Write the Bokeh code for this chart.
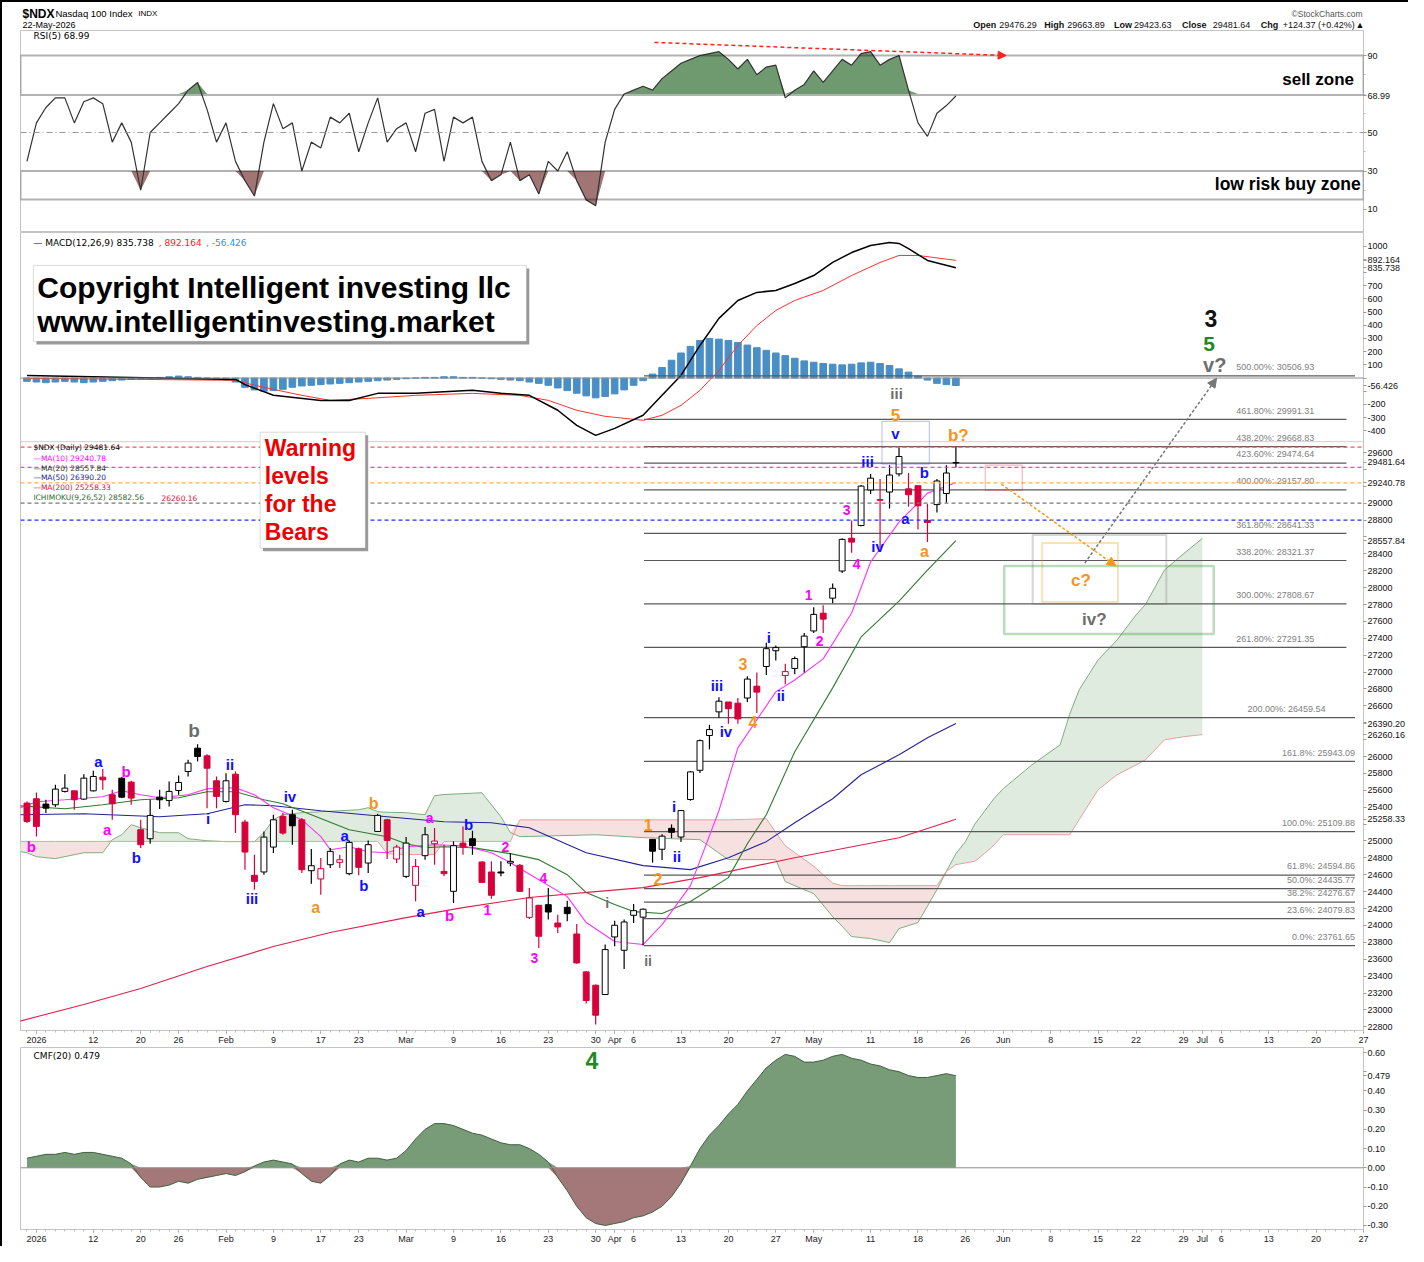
import numpy as np
from bokeh.plotting import figure
from bokeh.layouts import column
from bokeh.models import (Range1d, FixedTicker, Label, Span, Arrow, NormalHead,
                          ColumnDataSource, BoxAnnotation)
from bokeh.embed import file_html
from bokeh.resources import INLINE
from bokeh.core.properties import value

FONT = "Liberation Sans"
VFONT = "DejaVu Sans"

# ---------------- data (trading-day index: 0 = 2 Jan 2026) ----------------
days = list(range(-1, 98))
opens = [25449, 25500, 25437, 25429, 25587, 25594, 25496, 25594, 25756, 25547,
         25744, 25697, 25133, 25027, 25519, 25480, 25598, 25823, 26099, 26008,
         25713, 25468, 25791, 25224, 24593, 24633, 24928, 25291, 25311, 25251,
         24648, 24550, 24719, 24747, 24613, 24908, 24739, 25113, 25251, 24786,
         24581, 24475, 24826, 24968, 24640, 24404, 24975, 25027, 24751, 24633,
         24633, 24739, 24712, 24096, 24238, 24246, 24029, 24215, 23899, 23450,
         23292, 23182, 23864, 23706, 24120, 24098, 25019, 24902, 25150, 25047,
         25491, 25837, 26249, 26529, 26646, 26632, 26693, 26833, 27066, 27253,
         26959, 27043, 27300, 27487, 27697, 27875, 28197, 28585, 28735, 29156,
         29034, 29132, 29347, 29170, 29207, 28796, 28983, 29114, 29476.29]
highs = [25468, 25575, 25488, 25665, 25791, 25594, 25791, 25831, 25851, 25606,
         25756, 25713, 25251, 25488, 25606, 25705, 25776, 25961, 26146, 26028,
         25764, 25803, 25823, 25251, 24837, 25113, 25311, 25330, 25370, 25271,
         24905, 24798, 24916, 24837, 25007, 24924, 25007, 25322, 25263, 24956,
         25046, 24786, 25165, 25153, 24956, 24995, 25173, 25121, 24759, 24759,
         24759, 24857, 24727, 24443, 24246, 24443, 24128, 24293, 24018, 23458,
         23300, 23773, 24057, 24069, 24254, 24200, 25019, 25080, 25197, 25360,
         25828, 26202, 26375, 26702, 26646, 26693, 26950, 26996, 27347, 27314,
         27099, 27183, 27464, 27768, 27791, 28048, 28585, 28796, 29216, 29347,
         29287, 29450, 29660, 29357, 29207, 28992, 29287, 29450, 29663.89]
lows = [25212, 25054, 25330, 25401, 25575, 25370, 25488, 25587, 25606, 25251,
        25508, 25429, 24916, 24968, 25378, 25409, 25547, 25764, 25941, 25389,
        25389, 25456, 25094, 24660, 24424, 24601, 24857, 25074, 24956, 24621,
        24495, 24364, 24680, 24680, 24593, 24593, 24621, 25106, 24786, 24739,
        24562, 24286, 24778, 24719, 24581, 24266, 24837, 24837, 24503, 24317,
        24581, 24700, 24396, 24077, 23734, 24069, 23911, 24049, 23545, 23075,
        22827, 23182, 23753, 23485, 24029, 23762, 24744, 24776, 25033, 24987,
        25477, 25804, 26085, 26459, 26389, 26389, 26646, 26515, 26964, 27136,
        26856, 26973, 26996, 27464, 27464, 27814, 28174, 28412, 28726, 29109,
        28469, 28936, 29319, 28959, 28688, 28539, 28889, 29006, 29423.63]
closes = [25232, 25173, 25389, 25614, 25626, 25488, 25744, 25764, 25724, 25441,
          25519, 25508, 24956, 25303, 25488, 25587, 25693, 25922, 26000, 25862,
          25527, 25713, 25311, 24869, 24522, 25046, 25251, 25094, 25180, 24660,
          24707, 24672, 24877, 24778, 24983, 24688, 24956, 25303, 25007, 24928,
          24975, 24699, 25074, 24999, 24613, 24944, 24930, 24945, 24510, 24357,
          24621, 24759, 24404, 24325, 23872, 24159, 23982, 24140, 23556, 23111,
          22937, 23714, 24002, 24041, 24175, 24192, 24879, 25057, 25103, 25360,
          25818, 26188, 26319, 26655, 26566, 26445, 26917, 26763, 27277, 27290,
          27006, 27160, 27426, 27683, 27627, 27992, 28571, 28539, 29202, 29296,
          29043, 29333, 29553, 29100, 28969, 28772, 29263, 29357.27, 29481.64]

ma10_days = [-2, 0, 3, 7, 9, 11, 13, 16, 18, 21, 23, 25, 28, 30, 31, 33, 35, 37, 39, 42,
             45, 48, 50, 53, 56, 58, 61, 64, 66, 69, 72, 74, 78, 80, 83, 86, 88, 91, 93, 94, 97]
ma10 = [25382, 25465, 25488, 25524, 25595, 25547, 25512, 25547, 25618, 25630, 25547, 25394,
        25252, 25051, 24897, 24932, 24873, 24861, 24932, 24956, 24944, 24861, 24743, 24542,
        24341, 24034, 23809, 23774, 24010, 24471, 25358, 26103, 26766, 26907, 27156, 27700,
        28303, 28776, 29001, 29119, 29240.78]
ma20_days = [-2, 3, 7, 11, 15, 18, 21, 24, 26, 29, 33, 37, 39, 41, 43, 46, 50, 53, 56, 58,
             61, 63, 66, 69, 73, 75, 77, 80, 84, 87, 91, 94, 97]
ma20 = [25418, 25382, 25429, 25488, 25512, 25583, 25583, 25488, 25441, 25311, 25133, 25051,
        24968, 24921, 24932, 24921, 24850, 24779, 24601, 24389, 24247, 24164, 24141, 24283,
        24566, 24968, 25311, 26056, 26813, 27416, 27841, 28208, 28557.84]
ma50_days = [-2, 5, 13, 18, 22, 25, 30, 37, 43, 48, 52, 58, 64, 69, 73, 77, 80, 84, 87, 91, 94, 97]
ma50 = [25311, 25323, 25287, 25323, 25429, 25418, 25358, 25287, 25228, 25216, 25157, 24861,
        24708, 24661, 24802, 24992, 25216, 25500, 25784, 26020, 26222, 26390.20]
ma200_days = [-2, 5, 11, 18, 25, 31, 39, 45, 52, 59, 64, 70, 80, 91, 97]
ma200 = [22860, 23064, 23253, 23513, 23750, 23916, 24093, 24211, 24330, 24400, 24448, 24566,
         24802, 25039, 25258.33]

cloud_days = [-2, -1, 0, 2, 5, 7, 8, 9, 10, 11, 13, 15, 16, 18, 20, 23, 24, 25, 26, 28,
              34, 35, 36, 37, 39, 41, 42, 43, 47, 49, 50, 51, 59, 64, 70, 73, 77, 78, 79, 82,
              84, 85, 86, 88, 90, 91, 93, 95, 96, 97, 98, 99, 100, 101, 102, 105, 108, 109, 110, 112,
              114, 116, 117, 119, 121, 123]
span_a = [24880, 24860, 24814, 24791, 24861, 24861, 25015, 25074, 25193, 25157, 25098, 25098,
          25027, 25003, 24992, 24992, 25100, 25252, 25311, 25335, 25370, 25394, 25347, 25340,
          25335, 25311, 25536, 25550, 25571, 25287, 25100, 25051, 25074, 25040, 25015, 24779,
          24779, 24779, 24518, 24377, 24105, 23990, 23868, 23845, 23797, 23963, 24034, 24424,
          24640, 24850, 24992, 25200, 25350, 25500, 25620, 25900, 26139, 26500, 26789, 27144,
          27380, 27676, 27800, 28208, 28400, 28582.56]
span_b = [24995, 24995, 24995, 24995, 24995, 24995, 24995, 24995, 24995, 24995, 24995, 24995,
          24995, 24995, 24995, 24995, 24995, 24995, 24995, 24995, 24995, 24995, 24995, 24850,
          24840, 24840, 24840, 24995, 24995, 24995, 24995, 25250, 25250, 25250, 25250, 25250,
          25264, 25100, 24944, 24700, 24500, 24471, 24471, 24471, 24471, 24471, 24471, 24471,
          24640, 24720, 24740, 24760, 24850, 24950, 25074, 25074, 25074, 25074, 25252, 25607,
          25784, 25900, 25962, 26198, 26234, 26260.16]

macd_days = [-1, 21, 22, 25, 30, 33, 36, 40, 46, 49, 52, 55, 57, 59, 61, 64, 66, 68, 70, 72,
             74, 76, 78, 80, 82, 84, 86, 88, 90, 91, 92, 94, 97]
macd_line = [20, -10, -50, -130, -170, -170, -116, -116, -93, -116, -131, -244, -358, -434,
             -381, -282, -131, 20, 247, 452, 588, 649, 664, 717, 777, 876, 951, 1004, 1027,
             1020, 981, 891, 835.738]
signal_days = [-1, 21, 23, 28, 31, 35, 40, 46, 51, 54, 57, 60, 64, 66, 68, 70, 72, 74, 76, 78,
               80, 83, 86, 89, 91, 93, 97]
signal_line = [-2, -17, -55, -131, -169, -154, -131, -116, -131, -169, -244, -290, -320, -282,
               -207, -93, 58, 247, 398, 512, 588, 664, 777, 876, 929, 929, 892.164]
macd_hist = [-25, -30, -35, -30, -25, -30, -35, -30, -25, -20,
             -15, -10, -5, 0, 5, 10, 15, 10, 5, 0,
             -5, -15, -30, -70, -90, -100, -95, -85, -70,
             -60, -55, -50, -45, -40, -35, -30, -25, -20, -15, -10,
             -5, 0, 5, 5, 10, 10, 5, 5, 0, -5, -10, -15, -20, -30, -40, -55,
             -75, -95, -115, -135, -150, -140, -120, -90, -55,
             -20, 30, 80, 135, 190, 240, 285,
             300, 295, 285, 270, 250, 230, 210, 190, 170, 150,
             130, 120, 110, 105, 100, 105, 115, 120, 110, 95,
             70, 45, 15, -15, -40, -50, -56.426]

rsi5 = [35, 55, 63, 68, 68, 55, 66, 68, 65, 45,
        55, 45, 20, 50, 55, 60, 65, 72, 76, 62,
        45, 55, 35, 25, 17, 45, 65, 52, 55, 30,
        45, 42, 58, 55, 60, 40, 55, 68, 45, 52,
        55, 40, 60, 62, 35, 58, 55, 58, 35, 25,
        28, 45, 25, 28, 18, 35, 30, 40, 25, 15,
        12, 45, 62, 70, 72, 74, 72, 78, 82, 86,
        88, 90, 91, 92, 88, 83, 88, 80, 84, 85,
        68, 72, 75, 82, 76, 82, 88, 85, 91, 92,
        85, 88, 90, 72, 55, 48, 60, 64, 68.99]

cmf20 = [0.05, 0.06, 0.07, 0.07, 0.08, 0.07, 0.08, 0.08, 0.07, 0.06,
         0.05, 0.02, -0.05, -0.10, -0.10, -0.09, -0.07, -0.08, -0.06, -0.05,
         -0.04, -0.03, -0.04, -0.02, 0.01, 0.03, 0.04, 0.03, 0.02, -0.03,
         -0.07, -0.08, -0.04, 0.02, 0.04, 0.03, 0.05, 0.05, 0.04, 0.05,
         0.09, 0.15, 0.20, 0.23, 0.23, 0.22, 0.20, 0.18, 0.17, 0.15,
         0.13, 0.12, 0.12, 0.10, 0.07, 0.03, -0.05, -0.12, -0.20, -0.26,
         -0.29, -0.30, -0.29, -0.28, -0.26, -0.25, -0.23, -0.20, -0.15, -0.08,
         0.01, 0.10, 0.17, 0.22, 0.28, 0.33, 0.40, 0.46, 0.52, 0.56,
         0.59, 0.58, 0.55, 0.55, 0.56, 0.58, 0.59, 0.57, 0.56, 0.54,
         0.53, 0.51, 0.50, 0.48, 0.47, 0.47, 0.48, 0.49, 0.479]

fib_pct = ["500.00%", "461.80%", "438.20%", "423.60%", "400.00%", "361.80%", "338.20%",
           "300.00%", "261.80%", "200.00%", "161.8%", "100.0%", "61.8%", "50.0%", "38.2%",
           "23.6%", "0.0%"]
fib_val = [30506.93, 29991.31, 29668.83, 29474.64, 29157.80, 28641.33, 28321.37, 27808.67,
           27291.35, 26459.54, 25943.09, 25109.88, 24594.86, 24435.77, 24276.67, 24079.83,
           23761.65]

date_tick_days = [0, 6, 11, 15, 20, 25, 30, 34, 39, 44, 49, 54, 59, 61, 63, 68, 73, 78, 82, 88,
                  93, 98, 102, 107, 112, 116, 121, 123, 125, 130, 135, 140]
date_tick_labels = ["2026", "12", "20", "26", "Feb", "9", "17", "23", "Mar", "9", "16", "23",
                    "30", "Apr", "6", "13", "20", "27", "May", "11", "18", "26", "Jun", "8", "15",
                    "22", "29", "Jul", "6", "13", "20", "27"]

# latest values shown as tags on the right axes
price_tags = [29481.64, 29240.78, 28557.84, 26390.20, 26260.16, 25258.33]
macd_tags = [892.164, 835.738, -56.426]
rsi_tag = 68.99
cmf_tag = 0.479

# ---------------- layout constants ----------------
W = 1406
ML, MR = 18, 42
X0, X1 = -1.68, 140.0
PY0, PY1 = 22756, 32205
MY0, MY1 = -4944, 1103
RY0, RY1 = -1.95, 103
CY0, CY1 = -0.321, 0.626

BLUE = "#1010ff"; MAG = "#ff00ff"; ORG = "#f7941d"; GRY = "#6e6e6e"; GRN = "#1f8a1f"
RED = "#d6003a"


def panel(height, y0, y1, xaxis=True):
    f = figure(width=W, height=height, x_range=Range1d(X0, X1), y_range=Range1d(y0, y1),
               toolbar_location=None, output_backend="svg", y_axis_location="right",
               x_axis_location="below" if xaxis else None,
               min_border_left=ML, min_border_right=MR, min_border_top=0, min_border_bottom=0)
    f.xgrid.grid_line_color = None
    f.ygrid.grid_line_color = None
    f.outline_line_color = "#c4c4c4"
    ya = f.yaxis[0]
    ya.axis_line_color = "#c4c4c4"
    ya.major_tick_line_color = "#999999"
    ya.minor_tick_line_color = "#bbbbbb"
    ya.major_tick_in = 0
    ya.major_tick_out = 3
    ya.minor_tick_in = 0
    ya.minor_tick_out = 2
    ya.major_label_text_font = FONT
    ya.major_label_text_font_size = "9px"
    ya.major_label_text_color = "#111111"
    ya.major_label_standoff = 1
    return f


def date_axis(f):
    ax = f.xaxis[0]
    ax.ticker = FixedTicker(ticks=date_tick_days, minor_ticks=list(range(-1, 141)))
    ax.major_label_overrides = {d: l for d, l in zip(date_tick_days, date_tick_labels)}
    ax.major_label_text_font = FONT
    ax.major_label_text_font_size = "9px"
    ax.major_label_text_color = "#222222"
    ax.axis_line_color = "#c4c4c4"
    ax.major_tick_line_color = "#888888"
    ax.minor_tick_line_color = "#bbbbbb"
    ax.major_tick_in = 0
    ax.major_tick_out = 3
    ax.minor_tick_in = 0
    ax.minor_tick_out = 2
    ax.major_label_standoff = 1


def txt(f, x, y, text, color="#000000", size="9px", font=FONT, style="normal", align="left",
        rng=None, baseline="middle"):
    kw = dict(x=x, y=y, text=text, text_color=color, text_font_size=size, text_font=font,
              text_font_style=style, text_align=align, text_baseline=baseline)
    if rng:
        kw["y_range_name"] = rng
    f.add_layout(Label(**kw))


# ---------------- header ----------------
# (the column aligns this figure's frame with the panels below: frame spans page x 20..1366)
hdr = figure(width=W, height=28, x_range=Range1d(20, 1366), y_range=Range1d(30, 2),
             toolbar_location=None, output_backend="svg", x_axis_location=None,
             y_axis_location=None, min_border_left=ML, min_border_right=MR,
             min_border_top=0, min_border_bottom=0)
hdr.outline_line_color = None
hdr.xgrid.grid_line_color = None
hdr.ygrid.grid_line_color = None


def htxt(x, y, t, size="9px", style="normal", color="#000000", align="left"):
    hdr.text(x=[x], y=[y], text=[t], text_font=value(FONT), text_font_size=size,
             text_font_style=style, text_color=color, text_align=align, text_baseline="middle")


htxt(22, 13, "$NDX", "12px", "bold")
htxt(55, 13, "Nasdaq 100 Index", "9.5px")
htxt(138, 13, "INDX", "8px")
htxt(22, 24, "22-May-2026", "9px")
htxt(1365, 13, "\u00a9StockCharts.com", "8.5px", color="#555555", align="right")
for x, t, st in [(975, "Open", "bold"), (1001, "29476.29", "normal"), (1046, "High", "bold"),
                 (1069, "29663.89", "normal"), (1116, "Low", "bold"), (1136, "29423.63", "normal"),
                 (1184, "Close", "bold"), (1215, "29481.64", "normal"), (1263, "Chg", "bold"),
                 (1285, "+124.37 (+0.42%)", "normal"), (1358, "\u25b2", "normal")]:
    htxt(x, 24, t, "9px", st, "#111111")

# ---------------- RSI panel ----------------
rsi_f = panel(202, RY0, RY1, xaxis=False)
rsi_f.yaxis[0].ticker = FixedTicker(ticks=[10, 30, 50, 90, rsi_tag],
                                    minor_ticks=[20, 40, 60, 70, 80])
rsi_f.yaxis[0].major_label_overrides = {10: "10", 30: "30", 50: "50", 90: "90",
                                        rsi_tag: f"{rsi_tag:.2f}"}
r = np.array(rsi5, dtype=float)
rsi_f.varea(x=days, y1=np.full(len(r), 70.0), y2=np.maximum(r, 70), fill_color="#6f9a6f")
rsi_f.varea(x=days, y1=np.minimum(r, 30), y2=np.full(len(r), 30.0), fill_color="#a27575")
rsi_f.add_layout(Span(location=50, dimension="width", line_color="#999999", line_dash="6 3 1 3",
                      line_width=1))
rsi_f.line(days, rsi5, line_color="#333333", line_width=1.2)
rsi_f.add_layout(BoxAnnotation(bottom=69.5, top=90, fill_alpha=0, line_color="black",
                               line_width=2))
rsi_f.add_layout(BoxAnnotation(bottom=15.2, top=30, fill_alpha=0, line_color="black",
                               line_width=2))
txt(rsi_f, 139.0, 77.5, "sell zone", size="17px", style="bold", align="right")
txt(rsi_f, 139.7, 23, "low risk buy zone", size="17.5px", style="bold", align="right")
txt(rsi_f, -0.3, 99.9, "RSI(5) 68.99", size="9px", font=VFONT)
rsi_f.add_layout(Arrow(end=NormalHead(size=8, fill_color="#ff2020", line_color="#ff2020"),
                       x_start=65.2, y_start=96.8, x_end=102.3, y_end=90.0,
                       line_color="#ff2020", line_dash="4 3", line_width=1.5))

# ---------------- price + MACD panel ----------------
p = panel(815, PY0, PY1)
p.extra_y_ranges = {"macd": Range1d(MY0, MY1)}
date_axis(p)


def macd_to_price(m):
    return round(PY0 + (m - MY0) * (PY1 - PY0) / (MY1 - MY0), 3)


price_ticks = list(range(22800, 29601, 200))
macd_ticks = list(range(-400, 1001, 100))
hidden_price = {29400, 29200, 28600, 26400, 26200, 25200}
hidden_macd = {900, 800, 0, -100}
overrides = {t: ("" if t in hidden_price else str(t)) for t in price_ticks}
all_ticks = list(price_ticks)
for m in macd_ticks:
    pos = macd_to_price(m)
    overrides[pos] = "" if m in hidden_macd else str(m)
    all_ticks.append(pos)
for t in price_tags:
    overrides[t] = f"{t:.2f}"
    all_ticks.append(t)
for m in macd_tags:
    pos = macd_to_price(m)
    overrides[pos] = f"{m:.3f}"
    all_ticks.append(pos)
p.yaxis[0].ticker = FixedTicker(ticks=all_ticks)
p.yaxis[0].major_label_overrides = overrides

# MACD
p.add_layout(Span(location=0, dimension="width", line_color="#8c8c8c", line_width=1,
                  y_range_name="macd"))
p.add_layout(Span(location=-482, dimension="width", line_color="#d0d0d0", line_width=1,
                  y_range_name="macd"))
p.vbar(x=days, top=macd_hist, bottom=0, width=0.7, fill_color="#4a8ec6", line_color="#4a8ec6",
       y_range_name="macd")
p.line(signal_days, signal_line, line_color="#ff3030", line_width=1, y_range_name="macd")
p.line(macd_days, macd_line, line_color="#000000", line_width=1.5, y_range_name="macd")

# Ichimoku cloud
A = np.array(span_a, dtype=float)
B = np.array(span_b, dtype=float)
p.varea(x=cloud_days, y1=B, y2=np.maximum(A, B), fill_color="#dde9dc", fill_alpha=0.9)
p.varea(x=cloud_days, y1=A, y2=np.maximum(A, B), fill_color="#f6dddd", fill_alpha=0.9)
p.line(cloud_days, span_a, line_color="#7fae7f", line_width=1)
p.line(cloud_days, span_b, line_color="#e8a0a0", line_width=1)

# fib extension lines
fib_start = 64.1
fib_end = [139.1, 138.2, 138.2, 138.2, 138.2, 138.2, 138.2, 138.2, 138.2,
           139.1, 139.1, 139.1, 139.1, 139.1, 139.1, 139.1, 139.1]
fib_lab_x = [134.8] * 9 + [136.0] + [139.1] * 7
p.segment(x0=[fib_start] * len(fib_val), y0=fib_val, x1=fib_end, y1=fib_val,
          line_color="#5a5a5a", line_width=1.2)
p.text(x=fib_lab_x, y=[v + 45 for v in fib_val],
       text=[f"{a}: {v:.2f}" for a, v in zip(fib_pct, fib_val)],
       text_font=value(FONT), text_font_size="9px", text_color="#808080",
       text_align="right", text_baseline="bottom")

# moving averages
p.line(ma200_days, ma200, line_color="#e0204a", line_width=1.1)
p.line(ma50_days, ma50, line_color="#23239a", line_width=1.1)
p.line(ma20_days, ma20, line_color="#2f7a2f", line_width=1.1)
p.line(ma10_days, ma10, line_color="#ff33ff", line_width=1.1)

# warning level lines
for lvl, c in [(29663.89, "#ff5050"), (29423.63, "#ff33ff"), (29240.78, "#ffb040"),
               (29000, "#777777"), (28800, "#2233dd")]:
    p.add_layout(Span(location=lvl, dimension="width", line_color=c, line_dash="4 3",
                      line_width=1.2))

# candles
prev = [opens[0]] + closes[:-1]
ccol = ["#000000" if c >= pv else RED for c, pv in zip(closes, prev)]
cfill = ["#ffffff" if c > o else cc for o, c, cc in zip(opens, closes, ccol)]
src = ColumnDataSource(dict(x=days, lo=lows, hi=highs,
                            top=[max(o, c) for o, c in zip(opens, closes)],
                            bot=[min(o, c) for o, c in zip(opens, closes)],
                            col=ccol, fill=cfill))
p.segment(x0="x", y0="lo", x1="x", y1="hi", line_color="col", line_width=1.2, source=src)
p.vbar(x="x", width=0.62, top="top", bottom="bot", fill_color="fill", line_color="col",
       line_width=1, source=src)

# boxes / arrows
p.add_layout(BoxAnnotation(left=89.2, right=94.2, bottom=29462, top=29968, fill_alpha=0,
                           line_color="#3344ff", line_width=1.2))
p.add_layout(BoxAnnotation(left=100.1, right=104.0, bottom=29154, top=29450, fill_alpha=0,
                           line_color="#ee1111", line_width=1.2))
p.add_layout(BoxAnnotation(left=105.1, right=119.2, bottom=27806, top=28622, fill_alpha=0,
                           line_color="#777777", line_width=2))
p.add_layout(BoxAnnotation(left=106.1, right=114.1, bottom=27830, top=28527, fill_alpha=0,
                           line_color="#f39a1c", line_width=2))
p.add_layout(BoxAnnotation(left=102.1, right=124.2, bottom=27451, top=28255, fill_alpha=0,
                           line_color="#1a8a1a", line_width=2.5))
p.add_layout(Arrow(end=NormalHead(size=9, fill_color="#f39a1c", line_color="#f39a1c"),
                   x_start=101.8, y_start=29225, x_end=113.9, y_end=28255,
                   line_color="#f39a1c", line_dash="3 2", line_width=1.5))
p.add_layout(Arrow(end=NormalHead(size=9, fill_color="#777777", line_color="#777777"),
                   x_start=110.6, y_start=28291, x_end=124.5, y_end=30479,
                   line_color="#777777", line_dash="3 2", line_width=1.5))

# copyright / warning boxes
p.add_layout(BoxAnnotation(left=0.0, right=52.0, bottom=30880, top=31780, fill_color="#9a9a9a",
                           fill_alpha=1, line_alpha=0))
p.add_layout(BoxAnnotation(left=-0.32, right=51.7, bottom=30916, top=31815, fill_color="white",
                           fill_alpha=1, line_color="#888888", line_width=1))
txt(p, 0.1, 31555, "Copyright Intelligent investing llc", size="30px", style="bold")
txt(p, 0.1, 31153, "www.intelligentinvesting.market", size="30px", style="bold")
p.add_layout(BoxAnnotation(left=23.9, right=35.0, bottom=28432, top=29805, fill_color="#9a9a9a",
                           fill_alpha=1, line_alpha=0))
p.add_layout(BoxAnnotation(left=23.6, right=34.7, bottom=28468, top=29840, fill_color="white",
                           fill_alpha=1, line_color="#888888", line_width=1))
for yv, t in [(29651, "Warning"), (29320, "levels"), (28989, "for the"), (28658, "Bears")]:
    txt(p, 24.1, yv, t, color="#ee0000", size="23px", style="bold")

# wave labels
wave_labels = [
    (-0.53, 24932, "b", MAG, 15), (6.53, 25937, "a", BLUE, 15), (9.47, 25819, "b", MAG, 15),
    (7.47, 25133, "a", MAG, 15), (10.53, 24802, "b", BLUE, 15), (16.63, 26304, "b", GRY, 19),
    (20.42, 25902, "ii", BLUE, 15), (18.1, 25264, "i", BLUE, 15), (22.74, 24318, "iii", BLUE, 15),
    (26.74, 25524, "iv", BLUE, 15), (29.47, 24211, "a", ORG, 16), (35.58, 25441, "b", ORG, 16),
    (32.53, 25062, "a", BLUE, 15), (34.53, 24471, "b", BLUE, 15), (41.47, 25275, "a", MAG, 14),
    (40.53, 24164, "a", BLUE, 15), (43.58, 24117, "b", MAG, 15), (45.58, 25193, "b", BLUE, 15),
    (47.58, 24188, "1", MAG, 14), (49.47, 24932, "2", MAG, 14), (53.47, 24566, "4", MAG, 14),
    (52.53, 23620, "3", MAG, 14), (60.21, 24270, "i", GRY, 14), (64.53, 23584, "ii", GRY, 14),
    (64.53, 25193, "1", ORG, 16), (65.58, 24554, "2", ORG, 16), (67.26, 25406, "i", BLUE, 15),
    (67.58, 24814, "ii", BLUE, 15), (71.79, 26836, "iii", BLUE, 15), (72.74, 26292, "iv", BLUE, 15),
    (74.53, 27097, "3", ORG, 16), (75.58, 26411, "4", ORG, 16), (77.26, 27404, "i", BLUE, 15),
    (78.53, 26718, "ii", BLUE, 15), (81.47, 27913, "1", MAG, 14), (82.63, 27369, "2", MAG, 14),
    (85.47, 28918, "3", MAG, 14), (86.53, 28279, "4", MAG, 14), (87.68, 29497, "iii", BLUE, 15),
    (88.74, 28492, "iv", BLUE, 15), (90.63, 30041, "5", ORG, 17), (90.63, 29828, "v", BLUE, 15),
    (90.74, 30301, "iii", GRY, 15), (91.68, 28823, "a", BLUE, 15), (93.68, 29367, "b", BLUE, 15),
    (93.68, 28433, "a", ORG, 16), (97.26, 29805, "b?", ORG, 17), (123.9, 31188, "3", "#111111", 23),
    (123.7, 30881, "5", GRN, 21), (124.3, 30632, "v?", GRY, 20), (110.2, 28090, "c?", ORG, 17),
    (111.6, 27617, "iv?", GRY, 17),
]
wsrc = ColumnDataSource(dict(x=[w[0] for w in wave_labels], y=[w[1] for w in wave_labels],
                             t=[w[2] for w in wave_labels], c=[w[3] for w in wave_labels],
                             s=[f"{w[4]}px" for w in wave_labels]))
p.text(x="x", y="y", text="t", text_color="c", text_font_size="s", source=wsrc,
       text_font=value(FONT), text_font_style="bold", text_align="center",
       text_baseline="middle")

# legends
txt(p, -0.32, 1027, "\u2014 MACD(12,26,9) 835.738", size="9px", font=VFONT, rng="macd")
txt(p, 12.9, 1027, ", 892.164", color="#ff2020", size="9px", font=VFONT, rng="macd")
txt(p, 17.9, 1027, ", -56.426", color="#3a8fd0", size="9px", font=VFONT, rng="macd")
for yv, t, c in [(29655, "$NDX (Daily) 29481.64", "#000000"),
                 (29529, "\u2014MA(10) 29240.78", "#ff00ff"),
                 (29411, "\u2014MA(20) 28557.84", "#333333"),
                 (29300, "\u2014MA(50) 26390.20", "#1a1a9a"),
                 (29182, "\u2014MA(200) 25258.33", "#e0103a"),
                 (29063, "ICHIMOKU(9,26,52) 28582.56", "#2e6b2e")]:
    txt(p, -0.32, yv, t, color=c, size="7.5px", font=VFONT)
txt(p, 13.2, 29063, "26260.16", color="#e0103a", size="7.5px", font=VFONT)

# ---------------- CMF panel ----------------
cf = panel(199, CY0, CY1)
date_axis(cf)
cmf_ticks = [0.6, 0.5, 0.4, 0.3, 0.2, 0.1, 0.0, -0.1, -0.2, -0.3]
cmf_over = {t: ("" if t == 0.5 else f"{t:.2f}") for t in cmf_ticks}
cmf_over[cmf_tag] = f"{cmf_tag:.3f}"
cf.yaxis[0].ticker = FixedTicker(ticks=cmf_ticks + [cmf_tag])
cf.yaxis[0].major_label_overrides = cmf_over
cm = np.array(cmf20, dtype=float)
cf.varea(x=days, y1=np.zeros(len(cm)), y2=np.maximum(cm, 0), fill_color="#789c78")
cf.varea(x=days, y1=np.minimum(cm, 0), y2=np.zeros(len(cm)), fill_color="#a47878")
cf.add_layout(Span(location=0, dimension="width", line_color="#8c8c8c", line_width=1))
cf.line(days, cmf20, line_color="#3f5f3f", line_width=1)
txt(cf, -0.3, 0.58, "CMF(20) 0.479", size="9px", font=VFONT)
txt(cf, 58.6, 0.56, "4", color=GRN, size="23px", style="bold", align="center")

layout = column(hdr, rsi_f, p, cf, spacing=0,
                styles={"border-top": "2px solid #000", "border-left": "2px solid #000"})

open("out.html", "w").write(file_html(layout, INLINE))
